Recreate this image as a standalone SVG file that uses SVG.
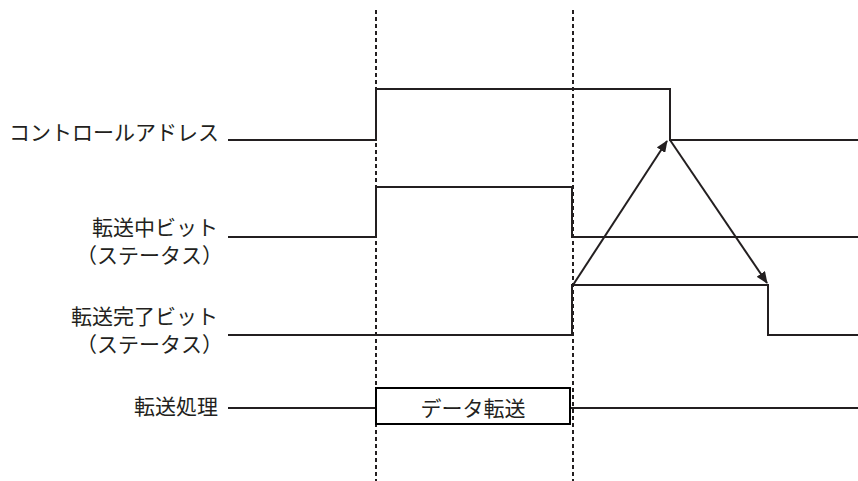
<svg xmlns="http://www.w3.org/2000/svg" width="858" height="481" viewBox="0 0 858 481">
<defs>
<style>
.sig{fill:none;stroke:#231f20;stroke-width:2}
.dash{fill:none;stroke:#231f20;stroke-width:2;stroke-dasharray:4 3}
.lbl{font-family:"Noto Sans CJK JP","Noto Sans CJK SC",sans-serif;font-size:21px;fill:#231f20;text-anchor:end}
.box{fill:#fff;stroke:#000;stroke-width:2}
.arr{fill:none;stroke:#231f20;stroke-width:2;marker-end:url(#ah)}
</style>
<marker id="ah" viewBox="0 0 12 10" refX="11" refY="5" markerWidth="12" markerHeight="10" markerUnits="userSpaceOnUse" orient="auto">
<path d="M0,0 L12,5 L0,10 Z" fill="#231f20"/>
</marker>
</defs>
<rect width="858" height="481" fill="#fff"/>
<g id="guides">
<line class="dash" x1="376" y1="10" x2="376" y2="481"/>
<line class="dash" x1="573" y1="10" x2="573" y2="481"/>
</g>
<g id="control-address">
<text class="lbl" x="219" y="140">コントロールアドレス</text>
<polyline class="sig" points="228,140 376,140 376,89 670,89 670,140 858,140"/>
</g>
<g id="busy-bit">
<text class="lbl" x="218" y="235">転送中ビット</text>
<text class="lbl" x="223" y="263">（ステータス）</text>
<polyline class="sig" points="228,237 376,237 376,187 572,187 572,237 858,237"/>
</g>
<g id="done-bit">
<text class="lbl" x="218" y="324">転送完了ビット</text>
<text class="lbl" x="223" y="352">（ステータス）</text>
<polyline class="sig" points="228,335 572,335 572,285 768,285 768,335 858,335"/>
</g>
<g id="transfer">
<text class="lbl" x="218" y="414">転送処理</text>
<line class="sig" x1="228" y1="408" x2="376" y2="408"/>
<line class="sig" x1="570" y1="408" x2="858" y2="408"/>
<rect class="box" x="376" y="388" width="194" height="36"/>
<text x="473" y="416" style="font-family:'Noto Sans CJK JP','Noto Sans CJK SC',sans-serif;font-size:21px;fill:#231f20;text-anchor:middle">データ転送</text>
</g>
<g id="connectors">
<line class="arr" x1="573" y1="285" x2="667" y2="141"/>
<line class="arr" x1="670" y1="140" x2="767" y2="283"/>
</g>
</svg>
